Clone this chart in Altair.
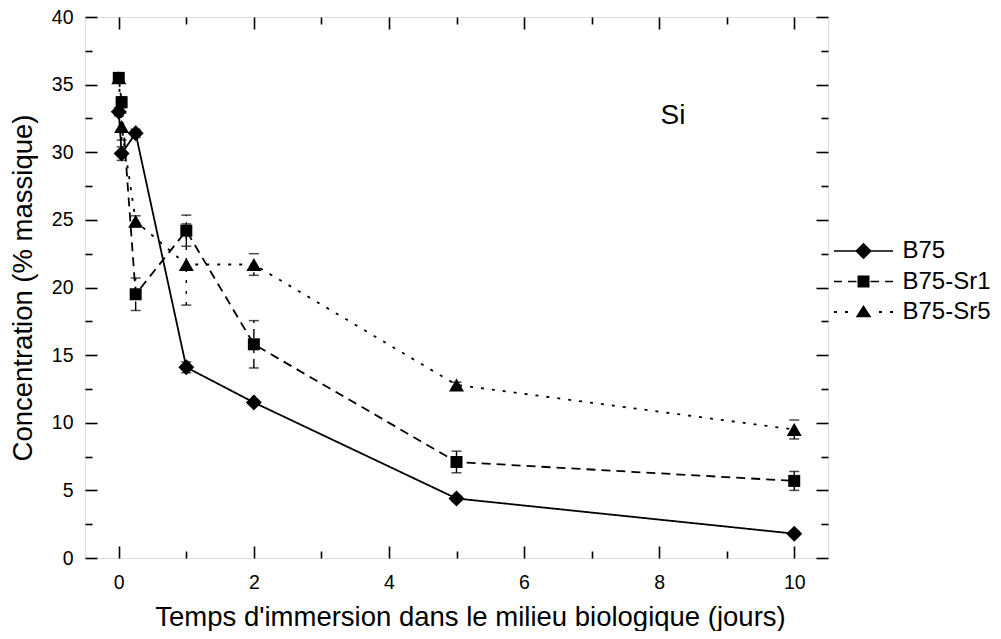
import altair as alt
import pandas as pd

FONT = "Liberation Sans"

# ---- data ----
series_names = ["B75", "B75-Sr1", "B75-Sr5"]
days = [0, 0.042, 0.25, 1, 2, 5, 10]
b75 = [33.0, 29.9, 31.4, 14.1, 11.5, 4.4, 1.8]
b75_err = [0.3, 0.5, 0.3, 0.4, 0.2, 0.2, 0.2]
sr1 = [35.5, 33.7, 19.5, 24.2, 15.8, 7.1, 5.7]
sr1_err = [0.3, 0.4, 1.2, 1.15, 1.75, 0.8, 0.7]
sr5 = [35.5, 31.9, 24.9, 21.7, 21.7, 12.8, 9.5]
sr5_err = [0.3, 1.0, 0.4, 3.0, 0.8, 0.2, 0.7]

x_labels = [0, 2, 4, 6, 8, 10]
x_ticks = [0, 1, 2, 3, 4, 5, 6, 7, 8, 9, 10]
y_labels = [0, 5, 10, 15, 20, 25, 30, 35, 40]
y_ticks = [0, 2.5, 5, 7.5, 10, 12.5, 15, 17.5, 20, 22.5, 25, 27.5, 30, 32.5, 35, 37.5, 40]

rows = []
for name, vals, errs in [("B75", b75, b75_err), ("B75-Sr1", sr1, sr1_err), ("B75-Sr5", sr5, sr5_err)]:
    for d, v, e in zip(days, vals, errs):
        rows.append({"series": name, "day": d, "conc": v, "lo": v - e, "hi": v + e})
df = pd.DataFrame(rows)

W, H = 743, 541
xs = alt.Scale(domain=[-0.5, 10.5], nice=False, zero=False)
ys = alt.Scale(domain=[0, 40], nice=False, zero=False)
dashes = {"B75": [1, 0], "B75-Sr1": [9, 6], "B75-Sr5": [3, 8]}
shapes = {"B75": ("diamond", 256), "B75-Sr1": ("square", 144), "B75-Sr5": ("triangle-up", 225)}


# legend glyphs: line pieces drawn as thin filled bars (unit = sqrt(symbolSize)/2 px)
def bar(x0, x1, h=0.11):
    return f"M{x0},{-h}L{x1},{-h}L{x1},{h}L{x0},{h}Z"


legend_shapes = [
    bar(-4, 4) + "M0,-1.13L1.13,0L0,1.13L-1.13,0Z",
    bar(-4, -2.92) + bar(-2.1, -0.95) + "M-0.81,-0.81L0.81,-0.81L0.81,0.81L-0.81,0.81Z"
    + bar(0.95, 2.1) + bar(2.92, 4),
    bar(-4, -3.6, 0.13) + bar(-2.5, -2.1, 0.13) + "M0,-0.95L1.06,0.72L-1.06,0.72Z"
    + bar(2.1, 2.5, 0.13) + bar(3.6, 4, 0.13),
]
shape_scale = alt.Scale(domain=series_names, range=legend_shapes)

x_tick_size = {"condition": {"test": "datum.value % 2 === 0", "value": 12}, "value": 7}
y_tick_size = {"condition": {"test": "datum.value % 5 === 0", "value": 12}, "value": 7}

common_tick_axis = dict(labels=False, domain=False, grid=False, title=None,
                        tickColor="black", tickWidth=1.6)

ax_x_labels = alt.Axis(values=x_labels, ticks=False, domain=False, grid=False,
                       labelFont=FONT, labelFontSize=19.5, labelColor="black", labelPadding=15,
                       title="Temps d'immersion dans le milieu biologique (jours)",
                       titleFont=FONT, titleFontSize=27.5, titleFontWeight="normal",
                       titleColor="black", titlePadding=11.5, titleX=385)
ax_y_labels = alt.Axis(values=y_labels, ticks=False, domain=False, grid=False,
                       labelFont=FONT, labelFontSize=19.5, labelColor="black", labelPadding=12,
                       title="Concentration (% massique)",
                       titleFont=FONT, titleFontSize=27.5, titleFontWeight="normal",
                       titleColor="black", titlePadding=14)
ax_x_bottom_in = alt.Axis(orient="top", offset=-H, values=x_ticks, tickSize=x_tick_size, **common_tick_axis)
ax_x_top_in = alt.Axis(orient="bottom", offset=-H, values=x_ticks, tickSize=x_tick_size, **common_tick_axis)
ax_y_left_in = alt.Axis(orient="right", offset=-W, values=y_ticks, tickSize=y_tick_size, **common_tick_axis)
ax_y_right_in = alt.Axis(orient="left", offset=-W, values=y_ticks, tickSize=y_tick_size, **common_tick_axis)

base = alt.Chart(df)

layers = []
# lines and error bars, one layer per series
for i, s in enumerate(series_names):
    sub = base.transform_filter(alt.datum.series == s)
    if i == 0:
        xa, ya = ax_x_labels, ax_y_labels
    else:
        xa, ya = None, None
    layers.append(sub.mark_line(color="black", strokeWidth=1.8, strokeDash=dashes[s]).encode(
        x=alt.X("day:Q", scale=xs, axis=xa),
        y=alt.Y("conc:Q", scale=ys, axis=ya),
    ))
    layers.append(sub.mark_rule(color="black", strokeWidth=1.4, strokeDash=dashes[s]).encode(
        x=alt.X("day:Q", scale=xs, axis=None),
        y=alt.Y("lo:Q", scale=ys, axis=None),
        y2="hi:Q",
    ))

for col in ["lo", "hi"]:
    layers.append(base.mark_tick(color="black", orient="horizontal", size=10, thickness=1.5).encode(
        x=alt.X("day:Q", scale=xs, axis=None),
        y=alt.Y(f"{col}:Q", scale=ys, axis=None),
    ))

tick_axes = {"B75-Sr5": (None, None), "B75-Sr1": (ax_x_top_in, ax_y_right_in),
             "B75": (ax_x_bottom_in, ax_y_left_in)}
for s in ["B75-Sr5", "B75-Sr1", "B75"]:
    shp, size = shapes[s]
    xa, ya = tick_axes[s]
    layers.append(base.transform_filter(alt.datum.series == s).mark_point(
        shape=shp, filled=True, color="black", size=size, opacity=1).encode(
        x=alt.X("day:Q", scale=xs, axis=xa),
        y=alt.Y("conc:Q", scale=ys, axis=ya),
    ))

leg = alt.Legend(title=None, orient="none", legendX=766.5, legendY=222, padding=0,
                 labelFont=FONT, labelFontSize=24, labelColor="black", labelLimit=0,
                 labelOffset=27, rowPadding=6.5,
                 symbolSize=217.6, symbolStrokeWidth=0, symbolFillColor="black",
                 symbolOpacity=1)
layers.append(base.mark_point(filled=True, color="black", opacity=0).encode(
    x=alt.X("day:Q", scale=xs, axis=None),
    y=alt.Y("conc:Q", scale=ys, axis=None),
    shape=alt.Shape("series:N", scale=shape_scale, legend=leg),
))

layers.append(alt.Chart(pd.DataFrame({"t": ["Si"]})).mark_text(
    font=FONT, fontSize=28, color="black", align="center", baseline="middle").encode(
    text="t:N", x=alt.value(588), y=alt.value(99)))

chart = alt.layer(*layers).resolve_axis(x="independent", y="independent").properties(
    width=W, height=H,
    autosize=alt.AutoSizeParams(type="none"),
    padding={"left": 77, "top": 9, "right": 165, "bottom": 73},
).configure_view(stroke="black", strokeWidth=2).configure(background="white")

chart.save("out.html", embed_options={"renderer": "svg", "actions": False})
